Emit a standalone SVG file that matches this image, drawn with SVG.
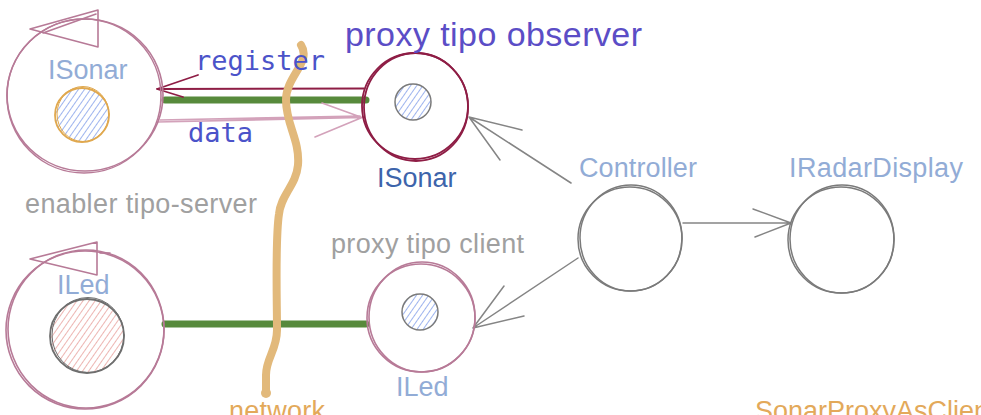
<svg xmlns="http://www.w3.org/2000/svg" width="981" height="415" viewBox="0 0 981 415">
<defs>
<pattern id="hb" patternUnits="userSpaceOnUse" width="5" height="5" patternTransform="rotate(35)"><line x1="0" y1="0" x2="0" y2="5" stroke="#7d9be9" stroke-width="1.5"/></pattern>
<pattern id="hr" patternUnits="userSpaceOnUse" width="5" height="5" patternTransform="rotate(35)"><line x1="0" y1="0" x2="0" y2="5" stroke="#e48e8a" stroke-width="1.3"/></pattern>
<style>
.t{font-family:"Liberation Sans",Arial,sans-serif;font-size:27px}
.m{font-family:"DejaVu Sans Mono","Liberation Mono",monospace;font-size:27px;fill:#4b53c9}
.lb{fill:#92acd6}
.gr{fill:#a0a0a0}
.or{fill:#e3a95a}
.sk{fill:none;stroke-linecap:round;stroke-linejoin:round}
.mauve{stroke:#b77a97;stroke-width:1.6}
.crim{stroke:#8e1d45;stroke-width:1.8}
.gray{stroke:#7a7a7a;stroke-width:1.5}
.conn{stroke:#858585;stroke-width:1.5}
.green{stroke:#578a3c;stroke-width:7;stroke-linecap:round}
</style>
</defs>

<g id="connectors" class="sk">
<line class="green" x1="165" y1="100" x2="366" y2="100"/>
<line class="green" x1="165" y1="324" x2="366" y2="324"/>
<path d="M364,88.5 L157,89 M157,89 L198,75 M157,89 L183,97" stroke="#8e1d45" stroke-width="1.8"/>
<path d="M157,122 L362,117.5 M362,117.5 L322,103 M362,117.5 L315,137 M160,120 L360,116" stroke="#d3a2ba" stroke-width="1.6"/>
<path d="M571,183 L469,117 M469,117 L522,130 M469,117 L500,160" class="conn"/>
<path d="M578,258 L473,328 M473,328 L504,286 M473,328 L524,316" class="conn"/>
<path d="M683,223 L791,223 M791,223 L753,209 M791,223 L755,237" class="conn"/>
</g>

<g id="network">
<path class="sk" d="M301,45 C312,62 286,76 286,100 C286,125 300,140 298,165 C296,186 281,194 279,214 C275,240 277,300 277,330 C277,350 266,358 266,375 L266,390" stroke="#e2b97b" stroke-width="8"/>
<circle cx="266" cy="393" r="5" fill="#e2b97b"/>
<text class="t or" x="229" y="420" textLength="96">network</text>
</g>

<g id="server-isonar" class="sk">
<circle cx="84" cy="96" r="77" class="mauve"/>
<ellipse cx="85" cy="95" rx="78" ry="76" class="mauve" stroke-width="1"/>
<path d="M30,29 L98,10 L98,47 Z M43,33 L96,14" class="mauve"/>
<circle cx="82" cy="115" r="27" fill="url(#hb)" stroke="none"/>
<circle cx="82" cy="115" r="27" stroke="#e0a84e" stroke-width="1.8"/>
<ellipse cx="83" cy="114" rx="26" ry="27.5" stroke="#e0a84e" stroke-width="1"/>
<text class="t lb" x="48" y="79" stroke="none">ISonar</text>
</g>

<g id="server-iled" class="sk">
<circle cx="85" cy="330" r="79" class="mauve"/>
<ellipse cx="86" cy="329" rx="78" ry="79" class="mauve" stroke-width="1"/>
<path d="M30,259 L97,242 L97,275 Z M100,253 L110,253" class="mauve"/>
<circle cx="87" cy="336" r="37" fill="url(#hr)" stroke="none"/>
<circle cx="87" cy="336" r="37" stroke="#6e6e6e" stroke-width="1.8"/>
<ellipse cx="88" cy="335" rx="36" ry="37.5" stroke="#6e6e6e" stroke-width="1"/>
<text class="t lb" x="57" y="294" stroke="none">ILed</text>
</g>

<g id="proxy-isonar" class="sk">
<circle cx="415" cy="106" r="53" class="crim"/>
<ellipse cx="416" cy="107" rx="52" ry="54" class="crim" stroke-width="1"/>
<circle cx="413" cy="102" r="18" fill="url(#hb)" stroke="none"/>
<circle cx="413" cy="102" r="18" class="gray"/>
<text class="t" x="377" y="187" fill="#3d64ab" stroke="none">ISonar</text>
</g>

<g id="proxy-iled" class="sk">
<circle cx="421" cy="318" r="54" class="mauve"/>
<ellipse cx="422" cy="317" rx="53" ry="55" class="mauve" stroke-width="1"/>
<circle cx="420" cy="312" r="18" fill="url(#hb)" stroke="none"/>
<circle cx="420" cy="312" r="18" class="gray"/>
<text class="t lb" x="396" y="396" stroke="none">ILed</text>
</g>

<g id="controller" class="sk">
<circle cx="630" cy="239" r="52" class="gray"/>
<ellipse cx="631" cy="238" rx="51" ry="53" class="gray" stroke-width="1"/>
<text class="t lb" x="579" y="177" textLength="118" stroke="none">Controller</text>
</g>

<g id="iradardisplay" class="sk">
<circle cx="841" cy="240" r="53" class="gray"/>
<ellipse cx="842" cy="239" rx="52" ry="54" class="gray" stroke-width="1"/>
<text class="t lb" x="789" y="177" textLength="174" stroke="none">IRadarDisplay</text>
</g>

<g id="labels">
<text class="t" x="345" y="46" style="font-size:34px" fill="#5b4dc6" textLength="297">proxy tipo observer</text>
<text class="m" x="195" y="70">register</text>
<text class="m" x="188" y="142">data</text>
<text class="t gr" x="25" y="213" textLength="232">enabler tipo-server</text>
<text class="t gr" x="331" y="253" textLength="193">proxy tipo client</text>
<text class="t or" x="755" y="420">SonarProxyAsClient</text>
</g>
</svg>
